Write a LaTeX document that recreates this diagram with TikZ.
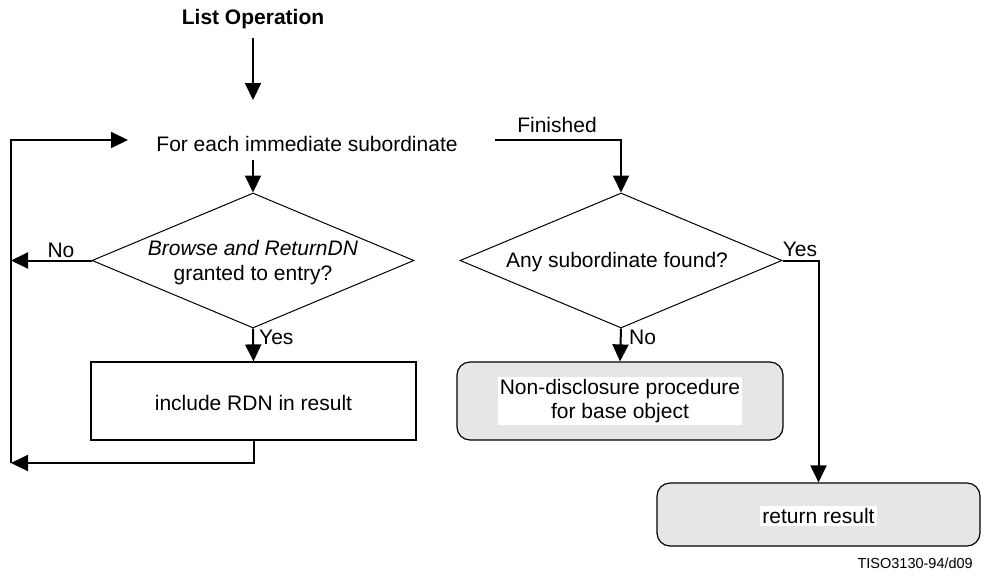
\documentclass[tikz,border=0pt]{standalone}
\usepackage{fontspec}
\setmainfont{Liberation Sans}
\usetikzlibrary{arrows.meta,shapes.geometric}
\definecolor{boxgray}{HTML}{E6E6E6}
\tikzset{
  arr/.style={line width=2pt,-{Triangle[length=17pt,width=16pt]}},
  conn/.style={line width=2pt},
  dec/.style={diamond,draw,line width=1pt,inner sep=0pt,minimum width=322pt,minimum height=135pt},
  procbox/.style={rectangle,draw,line width=1.2pt,inner sep=0pt,minimum width=325pt,minimum height=78pt},
  grayproc/.style={rectangle,rounded corners=13pt,draw,line width=1.2pt,fill=boxgray,inner sep=0pt},
  txt/.style={font=\fontsize{21}{25}\selectfont,inner sep=0pt,align=center},
  wtxt/.style={font=\fontsize{21}{24}\selectfont,inner sep=2pt,align=center,fill=white},
  lbl/.style={font=\fontsize{21}{25}\selectfont,inner sep=0pt},
}
\begin{document}
\begin{tikzpicture}[x=1pt,y=-1pt]
\useasboundingbox (0,0) rectangle (984,576);
% nodes
\node[txt,font=\fontsize{21}{25}\selectfont\bfseries] (lo) at (253,19) {List Operation};
\node[txt] (fe) at (307,144) {For each immediate subordinate};
\node[dec] (d1) at (253,260.5) {};
\node[txt] (d1t) at (253,263) {\itshape Browse and ReturnDN\\granted to entry?};
\node[procbox] (r1) at (253.5,401) {};
\node[txt] (r1t) at (253.5,403) {include RDN in result};
\node[dec] (d2) at (621,260.5) {};
\node[txt] (d2t) at (617,262) {Any subordinate found?};
\node[grayproc,minimum width=326pt,minimum height=78pt] (b1) at (620,401) {};
\node[wtxt] (b1t) at (620,401) {Non-disclosure procedure\\for base object};
\node[grayproc,minimum width=323pt,minimum height=63pt] (b2) at (818.5,514.5) {};
\node[wtxt] (b2t) at (818.5,516) {return result};
\node[font=\fontsize{14.5}{17}\selectfont,inner sep=0pt,anchor=east] (tiso) at (973,563) {TISO3130-94/d09};
% labels
\node[lbl] (no1) at (61,250) {No};
\node[lbl,anchor=west] (yes1) at (259,337) {Yes};
\node[lbl] (fin) at (557,125) {Finished};
\node[lbl] (yes2) at (800,249) {Yes};
\node[lbl,anchor=west] (no2) at (629,337) {No};
% coordinates
\coordinate (loOut) at (253,38);
\coordinate (feIn) at (253,100);
\coordinate (feOut) at (253,160);
\coordinate (loopTop) at (128,140);
\coordinate (loopBot) at (11,463);
\coordinate (loopMid) at (11,260.5);
\coordinate (finStart) at (495,140);
% connectors
\draw[arr] (loOut) -- (feIn);
\draw[arr] (feOut) -- (d1.north);
\draw[arr] (d1.west) -- (loopMid);
\draw[arr] (d1.south) -- (r1.north);
\draw[arr] (r1.south) |- (loopBot);
\draw[arr] (loopBot) |- (loopTop);
\draw[arr] (finStart) -| (d2.north);
\draw[arr] (d2.south) -- (b1.north);
\draw[arr] (d2.east) -| (b2.north);
\end{tikzpicture}
\end{document}
